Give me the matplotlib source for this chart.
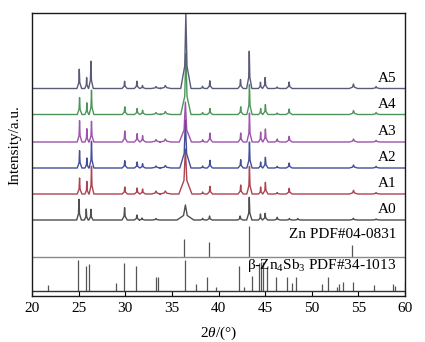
import matplotlib
matplotlib.use("Agg")
import matplotlib.pyplot as plt

plt.rcParams['font.family'] = ['Liberation Serif', 'DejaVu Serif']
plt.rcParams['mathtext.fontset'] = 'custom'
plt.rcParams['mathtext.rm'] = 'Liberation Serif'
plt.rcParams['mathtext.it'] = 'Liberation Serif:italic'

# Observed diffraction peaks per sample: (2theta, intensity, half base width)
peaks_a0 = [(25.04, 20.7, 0.25), (25.82, 11.0, 0.2), (26.32, 10.7, 0.22), (29.93, 12.3, 0.28),
            (31.25, 5.0, 0.28), (31.8, 2.0, 0.3), (33.3, 1.5, 0.4), (36.45, 15.0, 0.9),
            (38.3, 1.7, 0.25), (39.04, 4.0, 0.28), (42.32, 4.0, 0.28), (43.3, 22.7, 0.28),
            (44.5, 6.0, 0.22), (45.0, 6.7, 0.28), (46.3, 2.7, 0.3), (47.6, 1.5, 0.3),
            (48.5, 1.5, 0.3), (54.46, 1.7, 0.4), (56.9, 1.0, 0.4)]
peaks_a1 = [(25.1, 16.0, 0.25), (25.88, 12.7, 0.2), (26.38, 27.7, 0.25), (29.95, 7.0, 0.28),
            (31.27, 6.0, 0.28), (31.86, 5.0, 0.3), (33.3, 3.0, 0.5), (34.3, 3.0, 0.6),
            (36.45, 45.0, 0.7), (38.3, 2.0, 0.25), (39.08, 7.7, 0.28), (42.38, 9.0, 0.28),
            (43.32, 27.7, 0.28), (44.52, 7.0, 0.22), (45.03, 11.7, 0.28), (46.3, 1.5, 0.3),
            (47.58, 5.7, 0.32), (54.48, 3.7, 0.45), (56.9, 1.5, 0.4)]
peaks_a2 = [(25.1, 17.3, 0.25), (25.88, 10.0, 0.2), (26.38, 26.7, 0.25), (29.95, 7.3, 0.28),
            (31.27, 6.0, 0.28), (31.86, 4.3, 0.3), (33.3, 2.0, 0.5), (34.3, 2.5, 0.6),
            (36.45, 48.0, 0.6), (38.3, 2.0, 0.25), (39.08, 7.7, 0.28), (42.38, 8.3, 0.28),
            (43.32, 26.0, 0.28), (44.52, 6.0, 0.22), (45.03, 10.7, 0.28), (46.3, 1.7, 0.3),
            (47.58, 5.0, 0.32), (54.48, 3.0, 0.45), (56.9, 1.7, 0.4)]
peaks_a3 = [(25.1, 21.3, 0.25), (25.88, 13.3, 0.2), (26.38, 20.7, 0.25), (29.95, 11.0, 0.28),
            (31.27, 8.3, 0.28), (31.86, 6.3, 0.3), (33.3, 2.5, 0.5), (34.3, 3.0, 0.6),
            (36.45, 40.0, 0.65), (38.3, 2.3, 0.25), (39.08, 9.0, 0.28), (42.38, 9.0, 0.28),
            (43.32, 29.0, 0.28), (44.52, 10.0, 0.22), (45.03, 13.0, 0.28), (46.3, 3.0, 0.3),
            (47.58, 5.7, 0.32), (54.48, 3.0, 0.45), (56.9, 1.7, 0.4)]
peaks_a4 = [(25.1, 17.0, 0.25), (25.88, 11.7, 0.2), (26.38, 24.3, 0.25), (29.95, 7.7, 0.28),
            (31.27, 6.0, 0.28), (31.86, 4.3, 0.3), (33.3, 2.0, 0.5), (34.3, 3.0, 0.6),
            (36.5, 61.0, 0.55), (38.3, 2.0, 0.25), (39.08, 6.0, 0.28), (42.38, 7.7, 0.28),
            (43.32, 30.0, 0.28), (44.52, 6.0, 0.22), (45.03, 10.0, 0.28), (46.3, 1.5, 0.3),
            (47.58, 5.5, 0.32), (54.48, 4.0, 0.45), (56.9, 2.0, 0.4)]
peaks_a5 = [(25.07, 19.3, 0.25), (25.86, 11.0, 0.2), (26.32, 27.3, 0.25), (29.93, 7.3, 0.28),
            (31.25, 7.3, 0.28), (31.85, 3.0, 0.3), (33.3, 2.0, 0.5), (34.3, 3.0, 0.6),
            (36.5, 75.0, 0.55), (38.29, 2.3, 0.25), (39.07, 7.7, 0.28), (42.36, 9.0, 0.28),
            (43.3, 37.3, 0.28), (44.5, 6.3, 0.22), (45.0, 11.0, 0.28), (46.29, 1.5, 0.3),
            (47.57, 6.5, 0.32), (54.47, 4.5, 0.45), (56.9, 2.0, 0.4)]

samples = ['A0', 'A1', 'A2', 'A3', 'A4', 'A5']
sample_peaks = [peaks_a0, peaks_a1, peaks_a2, peaks_a3, peaks_a4, peaks_a5]

# Reference patterns
zn_pos = [36.30, 38.99, 43.23, 54.33]
zn_int = [18.3, 15.0, 31.3, 11.7]
zn4sb3_pos = [21.71, 24.93, 25.75, 26.11, 29.0, 29.82, 31.11, 33.29, 33.54, 36.36,
              37.57, 38.82, 39.71, 42.25, 42.71, 43.64, 44.3, 44.56, 44.82, 45.18,
              46.18, 47.39, 47.93, 48.29, 51.07, 51.79, 52.71, 52.96, 53.39, 54.46,
              56.64, 58.75, 58.96, 59.96]
zn4sb3_int = [5.7, 30.7, 24.7, 27.0, 8.3, 27.7, 25.0, 14.3, 13.7, 30.7,
              7.0, 13.7, 4.0, 25.3, 3.7, 14.7, 28.0, 29.0, 29.0, 24.0,
              14.0, 14.3, 8.3, 13.7, 7.0, 13.7, 3.7, 6.7, 9.0, 9.0,
              5.7, 6.7, 5.0, 9.0]

# Layout (vertical stacking)
trace_offsets = [76, 102, 128, 154, 181.5, 207.5]
label_dy = 10.5
zn_base = 39
zn4sb3_base = 5
colors = ['#3c3c3c', '#a3303f', '#2f3c8e', '#9440a4', '#3a8a48', '#474a6a']


def profile(peaks):
    xs, ys = [20.0], [0.0]
    for p, h, w in sorted(peaks):
        xs += [p - w, p - 0.22 * w, p, p + 0.22 * w, p + w]
        ys += [0.0, 0.3 * h, h, 0.3 * h, 0.0]
    xs.append(60.0)
    ys.append(0.0)
    return xs, ys


fig = plt.figure(figsize=(4.25, 3.42), dpi=100)
ax = fig.add_axes([32 / 425, 46 / 342, 373 / 425, 283 / 342])

for name, peaks, off, col in zip(samples, sample_peaks, trace_offsets, colors):
    xs, ys = profile(peaks)
    ax.plot(xs, [off + y for y in ys], color=col, lw=1.0, alpha=0.9)
    ax.text(59.1, off + label_dy, name, ha='right', va='center', fontsize=11)

# Zn reference sticks
ax.vlines(zn_pos, zn_base, [zn_base + v for v in zn_int], color='#555555', lw=0.9)
ax.axhline(zn_base, color='#8a8a8a', lw=1.0)
ax.text(59.05, 61, 'Zn PDF#04-0831', ha='right', va='center', fontsize=11)

# beta-Zn4Sb3 reference sticks
ax.vlines(zn4sb3_pos, zn4sb3_base, [zn4sb3_base + v for v in zn4sb3_int],
          color='#555555', lw=0.9)
ax.axhline(zn4sb3_base, color='#333333', lw=1.0)
ax.text(59.05, 30.5, r'β-Zn$_4$Sb$_3$ PDF#34-1013', ha='right', va='center',
        fontsize=11)

ax.set_xlim(20, 60)
ax.set_ylim(0, 283)
ax.set_xticks(range(20, 61, 5))
ax.set_yticks([])
ax.tick_params(axis='x', direction='in', length=3.6, width=0.8, pad=4.5,
               labelsize=11, top=False)
for sp in ax.spines.values():
    sp.set_linewidth(1.0)
    sp.set_color('#1a1a1a')

ax.set_xlabel(r'2$\mathit{\theta}$/(°)', fontsize=11, labelpad=7)
ax.set_ylabel('Intensity/a.u.', fontsize=11)
ax.yaxis.set_label_coords(-0.028, 0.534)

fig.savefig('out.png', dpi=100)
